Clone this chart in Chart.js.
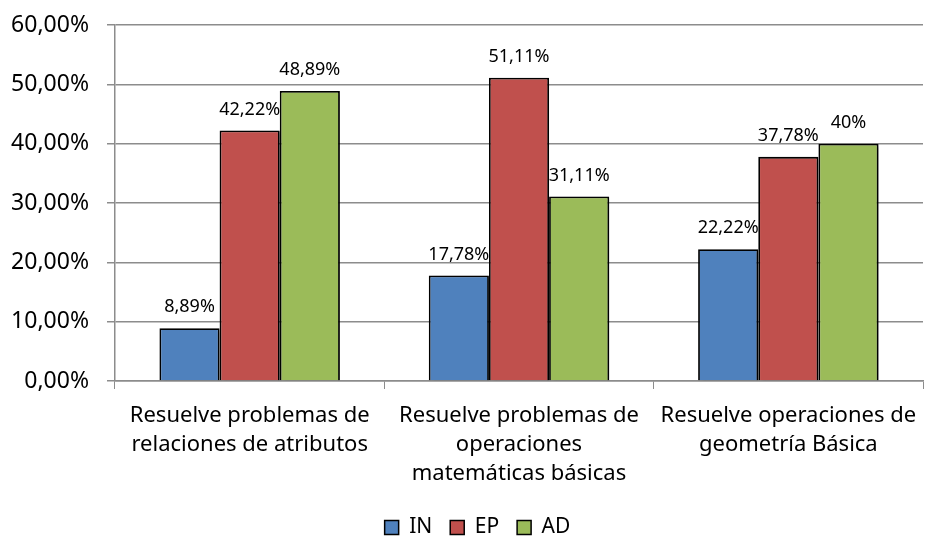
<!DOCTYPE html>
<html>
<head>
<meta charset="utf-8">
<script src="https://cdn.jsdelivr.net/npm/chart.js@4"></script>
<style>
  html, body { margin: 0; padding: 0; background: #fff; }
  #wrap { width: 926px; height: 541px; }
</style>
</head>
<body>
<div id="wrap"><canvas id="chart"></canvas></div>
<script>
const categories = [
  ['Resuelve problemas de', 'relaciones de atributos'],
  ['Resuelve problemas de', 'operaciones', 'matemáticas básicas'],
  ['Resuelve operaciones de', 'geometría Básica']
];
const seriesIN = [8.89, 17.78, 22.22];
const seriesEP = [42.22, 51.11, 37.78];
const seriesAD = [48.89, 31.11, 40];
const labelsIN = ['8,89%', '17,78%', '22,22%'];
const labelsEP = ['42,22%', '51,11%', '37,78%'];
const labelsAD = ['48,89%', '31,11%', '40%'];

const FONT = "'Noto Sans', 'Open Sans', sans-serif";

// bar shadow, like the office chart
const shadowPlugin = {
  id: 'barShadow',
  beforeDatasetDraw(chart) {
    const ctx = chart.ctx;
    ctx.save();
    ctx.shadowColor = 'rgba(0,0,0,0.35)';
    ctx.shadowOffsetX = 3;
    ctx.shadowOffsetY = 2;
    ctx.shadowBlur = 4;
  },
  afterDatasetDraw(chart) {
    chart.ctx.restore();
  }
};

// value labels above bars
const valueLabels = {
  id: 'valueLabels',
  afterDatasetsDraw(chart) {
    const ctx = chart.ctx;
    ctx.save();
    ctx.font = '18px ' + FONT;
    ctx.fillStyle = '#000';
    ctx.textAlign = 'center';
    ctx.textBaseline = 'middle';
    chart.data.datasets.forEach((ds, i) => {
      chart.getDatasetMeta(i).data.forEach((bar, j) => {
        ctx.fillText(ds.valueText[j], bar.x, bar.y - 21);
      });
    });
    ctx.restore();
  }
};

// nudge the legend lower and a little to the right, as in the original
const legendShift = {
  id: 'legendShift',
  afterLayout(chart) {
    const lg = chart.legend;
    lg.top += 7;
    lg.bottom += 7;
    lg.left += 16;
    lg.right += 16;
  }
};

new Chart(document.getElementById('chart'), {
  type: 'bar',
  data: {
    labels: categories,
    datasets: [
      { label: 'IN', data: seriesIN, valueText: labelsIN, backgroundColor: '#4F81BD' },
      { label: 'EP', data: seriesEP, valueText: labelsEP, backgroundColor: '#C0504D' },
      { label: 'AD', data: seriesAD, valueText: labelsAD, backgroundColor: '#9BBB59' }
    ]
  },
  options: {
    responsive: true,
    maintainAspectRatio: false,
    animation: false,
    datasets: {
      bar: {
        borderColor: '#000',
        borderWidth: 1.8,
        categoryPercentage: 0.67,
        barPercentage: 1
      }
    },
    layout: { padding: { top: 25, right: 3, left: 0, bottom: 0 } },
    plugins: {
      legend: {
        position: 'bottom',
        labels: {
          color: '#000',
          font: { family: FONT, size: 21 },
          boxWidth: 14,
          boxHeight: 14,
          padding: 18,
          generateLabels(chart) {
            return chart.data.datasets.map((ds, i) => ({
              text: ds.label,
              fillStyle: ds.backgroundColor,
              strokeStyle: '#000',
              lineWidth: 1.5,
              datasetIndex: i
            }));
          }
        }
      },
      tooltip: { enabled: false }
    },
    scales: {
      x: {
        offset: true,
        grid: { offset: true, drawOnChartArea: false, color: '#8c8c8c', tickLength: 8 },
        border: { color: '#8c8c8c', width: 1.5 },
        ticks: {
          color: '#000',
          font: { family: FONT, size: 22, lineHeight: 1.32 },
          maxRotation: 0,
          autoSkip: false,
          padding: 12
        },
        afterFit(s) {
          s.height = 111;
          s.paddingLeft = 0;
          s.paddingRight = 0;
        }
      },
      y: {
        min: 0,
        max: 60,
        ticks: {
          stepSize: 10,
          color: '#000',
          font: { family: FONT, size: 23 },
          padding: 18,
          callback: v => v.toFixed(2).replace('.', ',') + '%'
        },
        grid: { color: '#8c8c8c', lineWidth: 1.5, tickLength: 8 },
        border: { color: '#8c8c8c', width: 1.5 },
        afterFit(s) {
          s.width = 115;
          s.paddingTop = 0;
          s.paddingBottom = 0;
        }
      }
    }
  },
  plugins: [shadowPlugin, valueLabels, legendShift]
});
</script>
</body>
</html>
